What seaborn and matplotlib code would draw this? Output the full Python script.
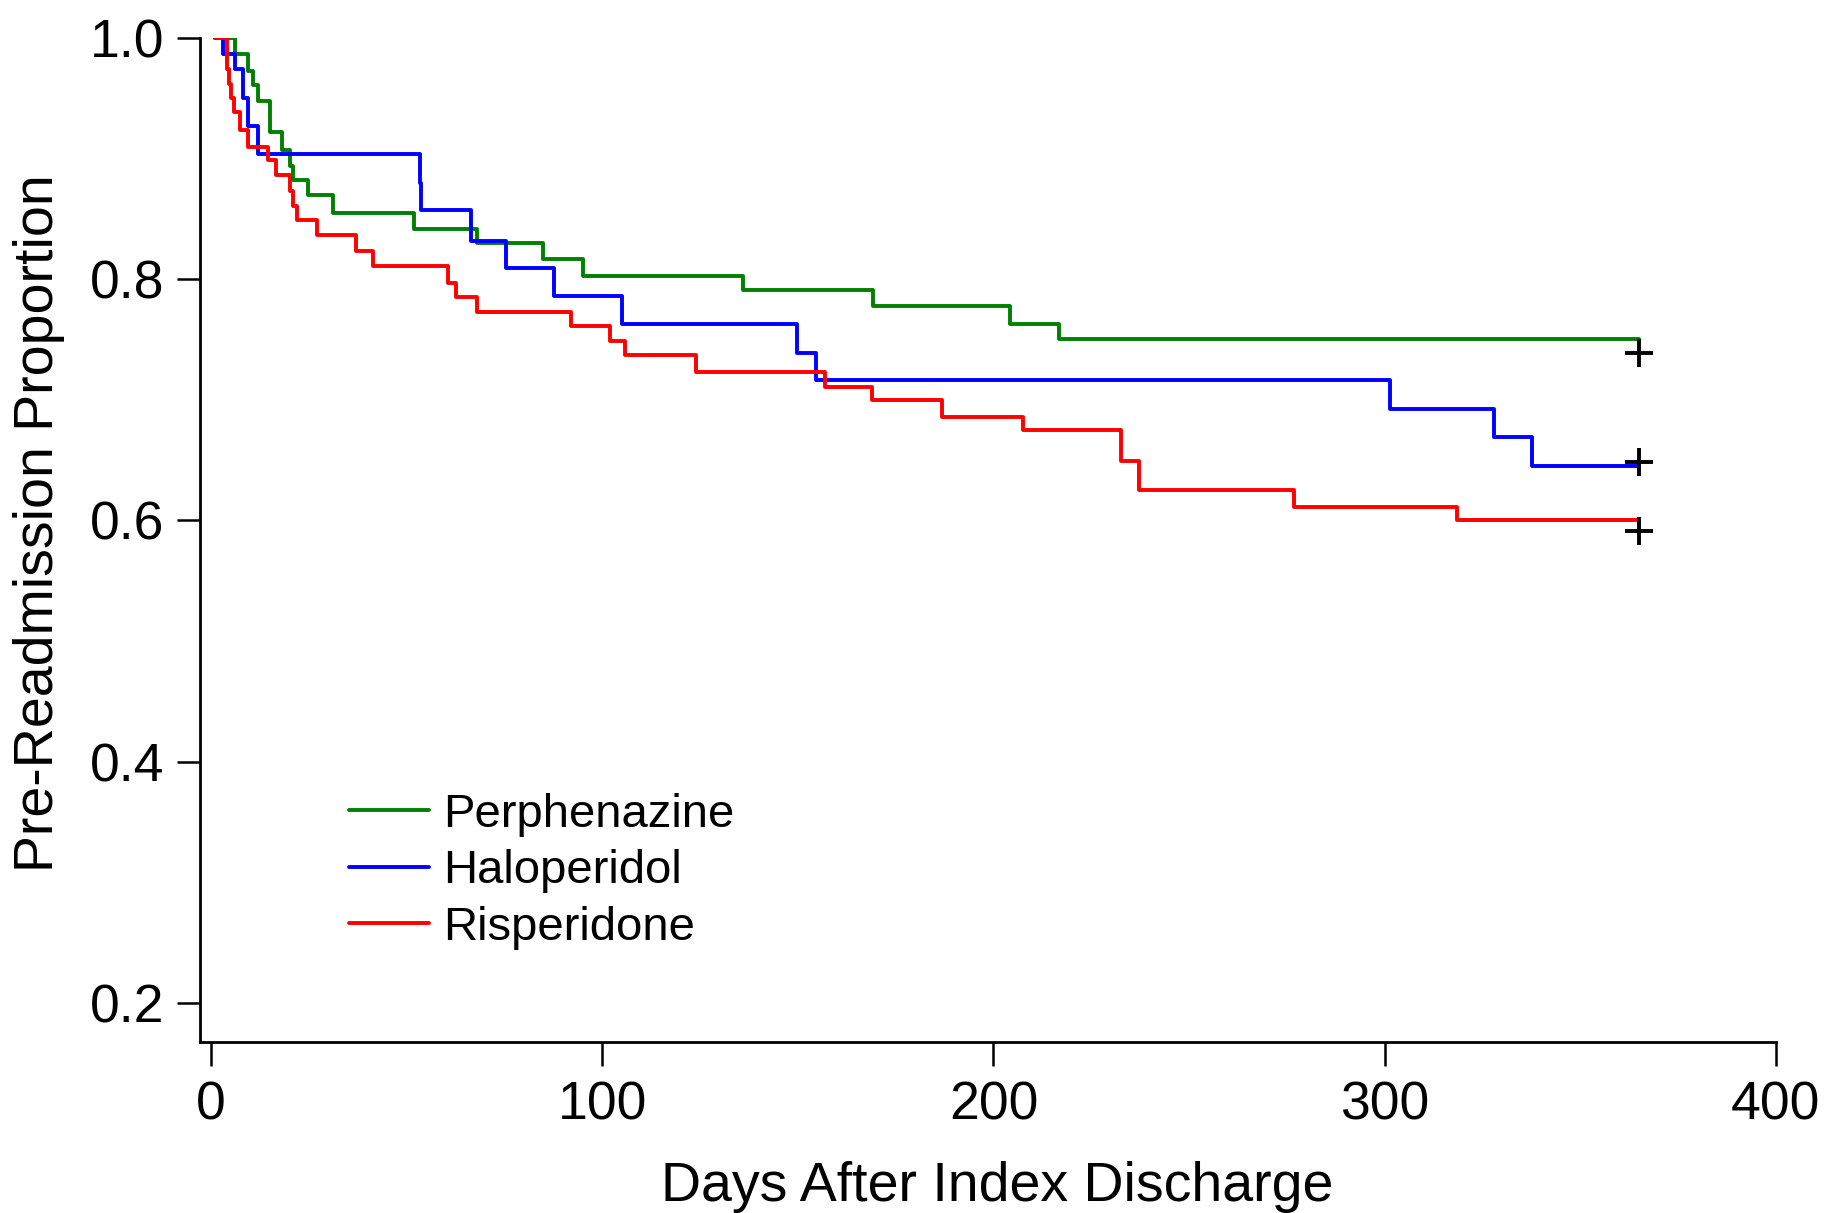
import numpy as np
import pandas as pd
import matplotlib
matplotlib.use("Agg")
import matplotlib.pyplot as plt
import seaborn as sns

# ---- data ----
perph_days = [1, 6.1, 9.5, 10.8, 12.1, 15.1, 18.1, 20.2, 20.9, 24.9, 31.3, 51.8, 67.9,
              84.9, 95.2, 136.1, 169.2, 204.2, 216.8, 365]
perph_surv = [1.0, 0.987, 0.973, 0.961, 0.948, 0.922, 0.907, 0.894, 0.882, 0.870, 0.855,
              0.842, 0.830, 0.817, 0.803, 0.791, 0.778, 0.763, 0.750, 0.750]

halo_days = [1, 3.2, 6.1, 8.3, 9.4, 12.1, 53.4, 53.8, 66.4, 75.4, 87.7, 105.1, 149.7,
             154.6, 301.3, 328.0, 337.7, 365]
halo_surv = [1.0, 0.987, 0.974, 0.950, 0.927, 0.904, 0.880, 0.857, 0.832, 0.809, 0.786,
             0.763, 0.739, 0.716, 0.692, 0.669, 0.645, 0.645]

risp_days = [1, 4.0, 4.5, 5.0, 6.0, 7.5, 9.5, 14.7, 16.6, 20.2, 20.9, 21.9, 27.0, 37.1,
             41.5, 60.6, 62.6, 68.1, 92.0, 102.0, 105.8, 124.0, 157.0, 168.9, 186.8,
             207.6, 232.5, 237.3, 276.9, 318.6, 365]
risp_surv = [1.0, 0.974, 0.962, 0.950, 0.939, 0.924, 0.910, 0.899, 0.886, 0.873, 0.861,
             0.849, 0.837, 0.823, 0.811, 0.797, 0.785, 0.773, 0.761, 0.749, 0.737, 0.723,
             0.711, 0.700, 0.686, 0.675, 0.649, 0.625, 0.611, 0.600, 0.600]

drugs = ["Perphenazine", "Haloperidol", "Risperidone"]
colors = ["#008000", "#0000FF", "#FF0000"]

censor_days = [365, 365, 365]
censor_surv = [0.739, 0.648, 0.591]

x_ticks = [0, 100, 200, 300, 400]
y_ticks = [0.2, 0.4, 0.6, 0.8, 1.0]
x_label = "Days After Index Discharge"
y_label = "Pre-Readmission Proportion"

# ---- build table ----
frames = []
for name, d, s in zip(drugs, [perph_days, halo_days, risp_days],
                      [perph_surv, halo_surv, risp_surv]):
    frames.append(pd.DataFrame({"day": d, "surv": s, "drug": name}))
df = pd.concat(frames, ignore_index=True)
cens = pd.DataFrame({"day": censor_days, "surv": censor_surv, "drug": drugs})

sns.set_style("ticks")
plt.rcParams["font.family"] = ["Liberation Sans", "DejaVu Sans"]
plt.rcParams["text.color"] = "black"
plt.rcParams["axes.labelcolor"] = "black"

fig = plt.figure(figsize=(18.25, 12.13), dpi=100)
ax = fig.add_axes([0.1096, 0.141, 0.9731 - 0.1096, 0.9687 - 0.141])

sns.lineplot(data=df, x="day", y="surv", hue="drug", hue_order=drugs,
             palette=colors, drawstyle="steps-post", estimator=None, sort=False,
             linewidth=2.8, ax=ax)
sns.scatterplot(data=cens, x="day", y="surv", marker="+", color="black",
                s=400, linewidth=2.8, ax=ax, legend=False, zorder=5)

ax.set_xlim(-2.8, 400)
ax.set_ylim(0.1675, 1.0)
ax.set_xticks(x_ticks)
ax.set_xticklabels([str(v) for v in x_ticks])
ax.set_yticks(y_ticks)
ax.set_yticklabels([f"{v:.1f}" for v in y_ticks])

for side in ["top", "right"]:
    ax.spines[side].set_visible(False)
for side in ["left", "bottom"]:
    ax.spines[side].set_linewidth(2.0)
    ax.spines[side].set_color("black")

ax.tick_params(axis="y", direction="out", length=16.5, width=1.8, pad=9,
               labelsize=38.5, colors="black")
ax.tick_params(axis="x", direction="out", length=17, width=1.8, pad=11,
               labelsize=38.5, colors="black")

ax.set_xlabel(x_label, fontsize=40, labelpad=22, color="black")
ax.set_ylabel(y_label, fontsize=40, labelpad=18, color="black")
ax.xaxis.label.set_x(0.506)
ax.yaxis.label.set_y(0.517)

handles, labels = ax.get_legend_handles_labels()
leg = ax.legend(handles, labels, loc="upper left", bbox_to_anchor=(0.0945, 0.248),
                frameon=False, fontsize=34, handlelength=1.7, handletextpad=0.3,
                labelspacing=0.26, borderpad=0, borderaxespad=0)
for line in leg.get_lines():
    line.set_linewidth(2.8)
for t in leg.get_texts():
    t.set_color("black")

fig.savefig("out.png", dpi=100)
